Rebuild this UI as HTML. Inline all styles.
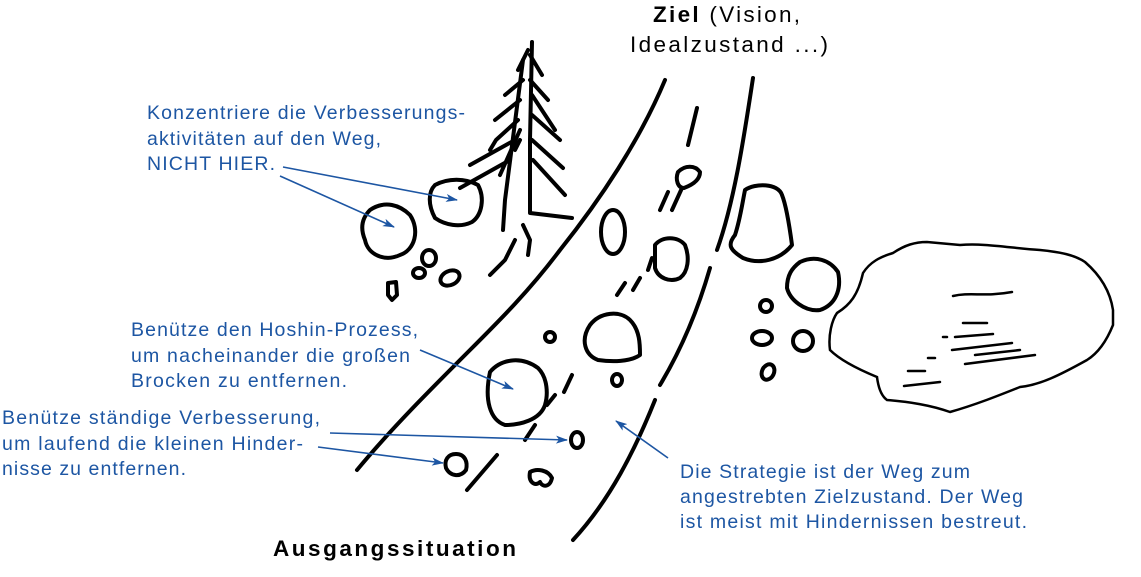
<!DOCTYPE html>
<html><head><meta charset="utf-8"><style>
html,body{margin:0;padding:0;background:#fff;}
svg{display:block;}
.b{fill:none;stroke:#000;stroke-width:4;stroke-linecap:round;stroke-linejoin:round;}
.t{fill:none;stroke:#000;stroke-width:2.5;stroke-linecap:round;}
.a{stroke:#1d56a3;stroke-width:1.6;fill:none;}
text{font-family:"Liberation Sans",sans-serif;}
.bl{fill:#1d56a3;font-size:19.5px;}
</style></head><body>
<svg width="1141" height="577" viewBox="0 0 1141 577" xmlns="http://www.w3.org/2000/svg">
<defs><marker id="ar" markerWidth="12" markerHeight="8" refX="11" refY="4" orient="auto" markerUnits="userSpaceOnUse"><path d="M0,0 L12,4 L0,8 L3,4 Z" fill="#1d56a3"/></marker></defs>
<!-- road -->
<path class="b" d="M665,80 C640,140 600,200 560,250 C530,290 500,320 470,350 C430,390 390,430 357,470"/>
<path class="b" d="M753,78 C745,130 735,200 717,250"/>
<path class="b" d="M710,268 C695,320 675,360 660,385"/>
<path class="b" d="M655,400 C635,450 610,500 573,540"/>
<path class="b" d="M697,108 L688,145"/>
<path class="b" d="M660,210 L668,192"/>
<path class="b" d="M648,270 L652,258"/>
<path class="b" d="M633,290 L640,278"/>
<path class="b" d="M617,295 L625,283"/>
<path class="b" d="M564,392 L572,375"/>
<path class="b" d="M547,405 L555,395"/>
<path class="b" d="M525,440 L535,425"/>
<path class="b" d="M467,490 L497,455"/>
<!-- tree -->
<path class="b" d="M532,42 L530,140 L530,213 L572,218"/>
<path class="b" d="M523,60 L505,200 L503,230"/>
<path class="b" d="M528,50 L518,70 M530,55 L542,75 M523,80 L505,95 M530,80 L548,100 M520,100 L495,120 M532,95 L555,130 M518,120 L496,140 L490,150 M532,115 L560,140 M515,140 L470,165 M532,140 L563,168 M510,160 L460,188 M533,160 L565,195 M520,130 L500,175 M520,140 L515,150"/>
<path class="b" d="M523,225 L530,240 L528,255 M515,240 L505,260 L490,275"/>
<!-- left rocks -->
<path class="b" d="M370,210 C385,200 400,205 410,215 C420,230 415,250 400,255 C385,262 368,255 365,240 C360,228 362,218 370,210 Z"/>
<path class="b" d="M435,185 C448,178 465,178 478,185 C485,198 482,215 472,222 C460,228 445,225 435,218 C428,205 428,192 435,185 Z"/>
<ellipse class="b" cx="429" cy="258" rx="7" ry="8"/>
<ellipse class="b" cx="419" cy="273" rx="6" ry="5"/>
<ellipse class="b" cx="450" cy="278" rx="10" ry="7" transform="rotate(-25 450 278)"/>
<path class="b" d="M388,283 L396,282 L397,295 L392,300 L388,295 Z"/>
<!-- road rocks -->
<ellipse class="b" cx="613" cy="232" rx="12" ry="22"/>
<path class="b" d="M655,245 C662,236 678,236 685,245 C690,258 688,272 680,278 C670,283 658,278 655,268 Z"/>
<path class="b" d="M678,172 C685,165 695,165 700,172 C700,180 692,185 684,188 C678,188 675,180 678,172 Z M682,188 L672,210"/>
<path class="b" d="M590,325 C600,312 620,310 630,320 C640,330 640,345 640,355 C630,362 612,362 598,360 C585,355 580,340 590,325 Z"/>
<path class="b" d="M490,372 C500,360 520,355 538,368 C548,378 548,395 545,405 C540,420 520,425 505,425 C490,420 484,400 490,372 Z"/>
<ellipse class="b" cx="550" cy="337" rx="5" ry="5"/>
<ellipse class="b" cx="617" cy="380" rx="5" ry="6"/>
<ellipse class="b" cx="577" cy="440" rx="6" ry="8"/>
<path class="b" d="M456,454 C465,454 468,462 466,470 C460,478 450,476 446,468 C444,460 448,454 456,454 Z"/>
<path class="b" d="M530,472 C537,468 548,470 552,478 C550,487 543,488 540,482 C535,487 528,482 530,472 Z"/>
<!-- right rocks -->
<path class="b" d="M745,190 C755,183 778,183 782,195 C786,205 790,230 792,245 C780,260 760,265 743,258 C730,250 727,245 735,235 C740,220 742,205 745,190 Z"/>
<path class="b" d="M800,262 C815,255 830,260 838,272 C842,290 835,305 820,310 C805,312 790,300 787,288 C787,275 792,268 800,262 Z"/>
<circle class="b" cx="766" cy="306" r="6"/>
<ellipse class="b" cx="762" cy="338" rx="10" ry="7"/>
<circle class="b" cx="803" cy="341" r="10"/>
<ellipse class="b" cx="768" cy="372" rx="6" ry="8" transform="rotate(25 768 372)"/>
<!-- lake -->
<path class="t" d="M893,253 C905,245 915,242 927,242 L960,245 C985,243 1010,248 1040,250 C1060,252 1075,255 1085,262 C1100,275 1110,290 1113,310 L1113,325 C1105,345 1095,355 1087,360 C1060,375 1040,385 1020,387 C1000,395 975,405 950,412 C930,405 910,402 887,400 C880,395 878,385 877,377 C860,370 840,360 830,350 C828,335 832,320 837,313 C850,305 858,295 863,273 C870,262 880,257 893,253 Z"/>
<path class="t" d="M953,296 C970,292 985,297 1012,292 M963,323 L987,323 M955,337 L993,334 M952,350 L1012,343 M975,355 L1020,350 M965,364 L1035,355 M928,358 L935,358 M908,371 L925,371 M904,386 L940,382 M943,337 L947,337"/>
<!-- arrows -->
<path class="a" marker-end="url(#ar)" d="M283,167 L457,200"/>
<path class="a" marker-end="url(#ar)" d="M280,176 L394,227"/>
<path class="a" marker-end="url(#ar)" d="M420,350 L513,389"/>
<path class="a" marker-end="url(#ar)" d="M330,433 L567,440"/>
<path class="a" marker-end="url(#ar)" d="M318,447 L443,463"/>
<path class="a" marker-end="url(#ar)" d="M668,458 L616,421"/>
<!-- text -->
<text x="653" y="22" font-size="22.5" textLength="147" lengthAdjust="spacing"><tspan font-weight="bold">Ziel</tspan> (Vision,</text>
<text x="630" y="52" font-size="22.5" textLength="198" lengthAdjust="spacing">Idealzustand ...)</text>
<text class="bl" x="147" y="119" textLength="318" lengthAdjust="spacing">Konzentriere die Verbesserungs-</text>
<text class="bl" x="147" y="145" textLength="234" lengthAdjust="spacing">aktivitäten auf den Weg,</text>
<text class="bl" x="147" y="170" textLength="128" lengthAdjust="spacing">NICHT HIER.</text>
<text class="bl" x="131" y="336" textLength="287" lengthAdjust="spacing">Benütze den Hoshin-Prozess,</text>
<text class="bl" x="131" y="362" textLength="279" lengthAdjust="spacing">um nacheinander die großen</text>
<text class="bl" x="131" y="387" textLength="216" lengthAdjust="spacing">Brocken zu entfernen.</text>
<text class="bl" x="2" y="424" textLength="318" lengthAdjust="spacing">Benütze ständige Verbesserung,</text>
<text class="bl" x="2" y="450" textLength="301" lengthAdjust="spacing">um laufend die kleinen Hinder-</text>
<text class="bl" x="2" y="475" textLength="184" lengthAdjust="spacing">nisse zu entfernen.</text>
<text class="bl" x="680" y="478" textLength="290" lengthAdjust="spacing">Die Strategie ist der Weg zum</text>
<text class="bl" x="680" y="503" textLength="343" lengthAdjust="spacing">angestrebten Zielzustand. Der Weg</text>
<text class="bl" x="680" y="528" textLength="347" lengthAdjust="spacing">ist meist mit Hindernissen bestreut.</text>
<text x="273" y="556" font-size="22.5" font-weight="bold" textLength="243" lengthAdjust="spacing">Ausgangssituation</text>
</svg>
</body></html>
